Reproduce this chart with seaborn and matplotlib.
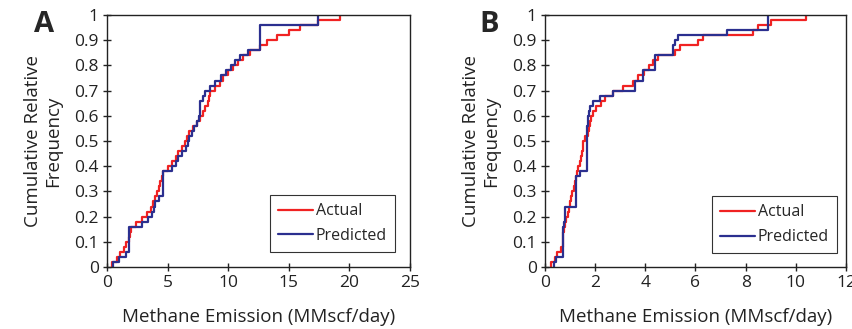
import numpy as np
import pandas as pd
import matplotlib.pyplot as plt
import seaborn as sns

# emissions (MMscf/day), sorted
actual_a = [0.4, 0.8, 1.1, 1.4, 1.6, 1.8, 1.9, 2.0, 2.4, 2.9,
            3.3, 3.6, 3.8, 4.0, 4.1, 4.3, 4.4, 4.5, 4.6, 5.0,
            5.4, 5.7, 5.9, 6.2, 6.4, 6.6, 6.8, 7.1, 7.4, 7.7,
            7.9, 8.1, 8.3, 8.4, 8.5, 8.9, 9.3, 9.6, 10.0, 10.4,
            10.8, 11.2, 11.8, 12.6, 13.2, 14.0, 15.0, 15.9, 17.4, 19.2]
predicted_a = [0.5, 1.0, 1.6, 1.8, 1.8, 1.8, 1.8, 1.8, 2.9, 3.4,
               3.7, 3.9, 4.0, 4.3, 4.6, 4.6, 4.6, 4.6, 4.6, 5.4,
               5.7, 5.9, 6.2, 6.5, 6.7, 6.8, 7.0, 7.2, 7.4, 7.6,
               7.7, 7.7, 7.7, 7.9, 8.1, 8.5, 8.9, 9.4, 9.8, 10.2,
               10.6, 11.0, 11.6, 12.6, 12.6, 12.6, 12.6, 12.6, 17.4, 17.4]
actual_b = [0.25, 0.38, 0.48, 0.62, 0.70, 0.71, 0.72, 0.74, 0.80, 0.85,
            0.90, 0.96, 1.00, 1.04, 1.09, 1.15, 1.20, 1.25, 1.28, 1.33,
            1.39, 1.43, 1.46, 1.50, 1.53, 1.60, 1.70, 1.75, 1.80, 1.85,
            1.92, 2.02, 2.25, 2.40, 2.70, 3.10, 3.50, 3.70, 3.95, 4.15,
            4.30, 4.50, 5.20, 5.40, 6.10, 6.30, 8.30, 8.50, 9.00, 10.40]
predicted_b = [0.35, 0.45, 0.72, 0.72, 0.72, 0.72, 0.72, 0.72, 0.76, 0.78,
               0.80, 0.80, 1.24, 1.24, 1.24, 1.24, 1.24, 1.24, 1.40, 1.66,
               1.66, 1.66, 1.66, 1.66, 1.66, 1.66, 1.66, 1.68, 1.70, 1.72,
               1.76, 1.80, 1.90, 2.20, 2.70, 3.60, 3.60, 3.90, 3.90, 4.40,
               4.40, 4.40, 5.10, 5.10, 5.20, 5.30, 7.25, 8.90, 8.90, 8.90]

panels = ['A', 'B']
series = ['Actual', 'Predicted']
colors = {'Actual': '#f02222', 'Predicted': '#2b2f8f'}
x_limits = {'A': (0, 25, 5), 'B': (0, 12, 2)}

rows = []
for name, vals in [('Actual', actual_a), ('Predicted', predicted_a)]:
    rows += [('A', name, v) for v in vals]
for name, vals in [('Actual', actual_b), ('Predicted', predicted_b)]:
    rows += [('B', name, v) for v in vals]
df = pd.DataFrame(rows, columns=['panel', 'series', 'emission'])

sns.set_style('ticks')
plt.rcParams['font.family'] = ['Open Sans', 'DejaVu Sans']

fig = plt.figure(figsize=(8.53, 3.29), dpi=100)
ax_a = fig.add_axes([0.1254, 0.1884, 0.3552, 0.766])
ax_b = fig.add_axes([0.6389, 0.1884, 0.3529, 0.766])
legend_pos = {'A': (0.95, 0.06), 'B': (0.97, 0.055)}

for ax, p in zip([ax_a, ax_b], panels):
    sub = df[df['panel'] == p]
    for s in series:
        sns.ecdfplot(data=sub[sub['series'] == s], x='emission', ax=ax,
                     color=colors[s], linewidth=1.6, label=s)
    lo, hi, step = x_limits[p]
    ax.set_xlim(lo, hi)
    ax.set_ylim(0, 1)
    ax.set_xticks(np.arange(lo, hi + step, step))
    yt = np.round(np.arange(0, 1.01, 0.1), 1)
    ax.set_yticks(yt)
    ax.set_yticklabels([f'{v:g}' for v in yt])
    ax.tick_params(direction='inout', length=6, width=1, labelsize=12.5,
                   colors='#222222', pad=3)
    for sp in ax.spines.values():
        sp.set_visible(True)
        sp.set_color('#222222')
        sp.set_linewidth(1)
    ax.set_xlabel('Methane Emission (MMscf/day)', fontsize=13.5,
                  color='#222222', labelpad=12)
    ax.set_ylabel('Cumulative Relative\nFrequency', fontsize=13.5,
                  color='#222222', labelpad=9, linespacing=1.1)
    leg = ax.legend(loc='lower right', bbox_to_anchor=legend_pos[p],
                    fontsize=11.5, frameon=True, fancybox=False,
                    edgecolor='black', handlelength=2.2, handletextpad=0.15,
                    borderpad=0.5, labelspacing=0.55, borderaxespad=0)
    leg.get_frame().set_linewidth(0.8)

fig.text(0.04, 0.97, 'A', fontsize=21, fontweight='bold', va='top')
fig.text(0.562, 0.97, 'B', fontsize=21, fontweight='bold', va='top')

fig.savefig('out.png', dpi=100)
